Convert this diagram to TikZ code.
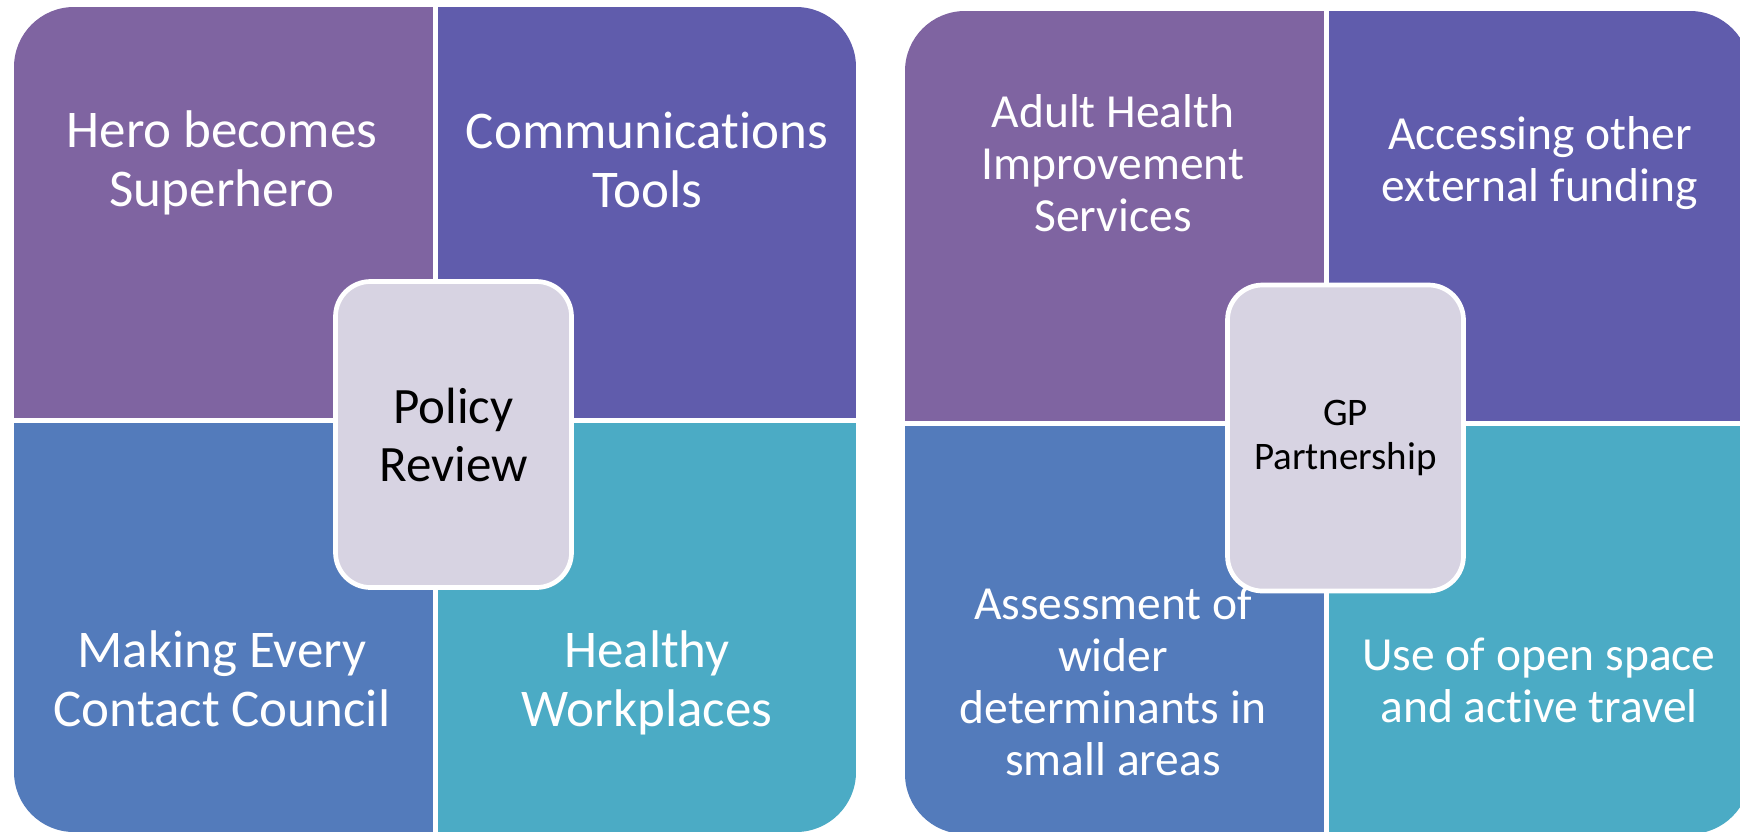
\documentclass[tikz,border=0pt]{standalone}
\usepackage{fontspec}
\setmainfont{Carlito}[Ligatures=NoCommon]
\definecolor{quadA}{HTML}{7F64A1}
\definecolor{quadB}{HTML}{605CAC}
\definecolor{quadC}{HTML}{537BBB}
\definecolor{quadD}{HTML}{4BABC5}
\definecolor{hub}{HTML}{D7D3E2}
\tikzset{
	bigtext/.style={white,align=center,font=\fontsize{26.5}{29.5}\selectfont},
	smalltext/.style={white,align=center,font=\fontsize{23.75}{26}\selectfont},
	hubbox/.style={draw=white,line width=2.35pt,fill=hub,rounded corners=17.5pt,minimum width=118pt,minimum height=153pt,align=center,text=black},
	gap/.style={white,line width=2.5pt}
}
\begin{document}
\begin{tikzpicture}[x=0.5pt,y=-0.5pt]
	\useasboundingbox (0,0) rectangle (1740,831);
	% left matrix
	\begin{scope}
		\clip[rounded corners=30pt] (14,7) rectangle (856,832);
		\fill[quadA] (14,7) rectangle (435,420);
		\fill[quadB] (435,7) rectangle (856,420);
		\fill[quadC] (14,420) rectangle (435,832);
		\fill[quadD] (435,420) rectangle (856,832);
		\draw[gap] (435,7) -- (435,832);
		\draw[gap] (14,420) -- (856,420);
	\end{scope}
	\node[bigtext] (hero) at (222,163) {Hero becomes\\Superhero};
	\node[bigtext] (comms) at (647,160) {Communications\\Tools};
	\node[bigtext] (mecc) at (222,679) {Making Every\\Contact Council};
	\node[bigtext] (work) at (647,683) {Healthy\\Workplaces};
	\node[hubbox,font=\fontsize{25.5}{29}\selectfont] (policy) at (453.5,434.5) {Policy\\Review};
	% right matrix
	\begin{scope}
		\clip[rounded corners=30pt] (905,11) rectangle (1750,834);
		\fill[quadA] (905,11) rectangle (1326.5,423.5);
		\fill[quadB] (1326.5,11) rectangle (1750,423.5);
		\fill[quadC] (905,423.5) rectangle (1326.5,834);
		\fill[quadD] (1326.5,423.5) rectangle (1750,834);
		\draw[gap] (1326.5,11) -- (1326.5,834);
		\draw[gap] (905,423.5) -- (1750,423.5);
	\end{scope}
	\node[smalltext] (adult) at (1113,163) {Adult Health\\Improvement\\Services};
	\node[smalltext] (funding) at (1540,163) {Accessing other\\external funding};
	\node[smalltext] (assess) at (1113,681) {Assessment of\\wider\\determinants in\\small areas};
	\node[smalltext] (space) at (1539,680) {Use of open space\\and active travel};
	\node[hubbox,font=\fontsize{19.5}{22}\selectfont] (gp) at (1345.5,438) {GP\\Partnership};
\end{tikzpicture}
\end{document}
